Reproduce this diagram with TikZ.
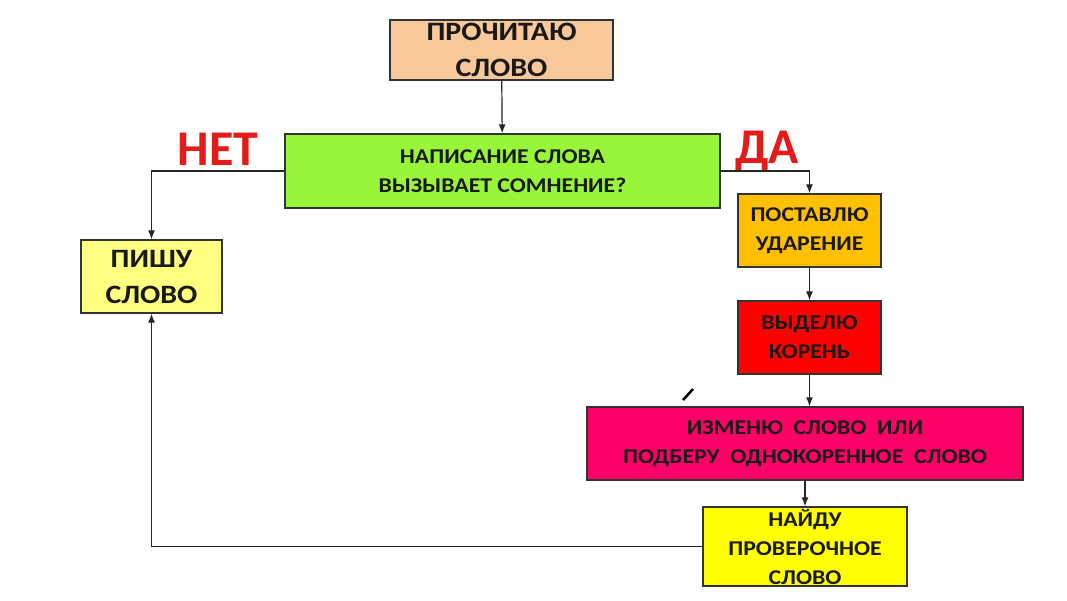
\documentclass[tikz,border=0pt]{standalone}
\usepackage{fontspec}
\setsansfont{Carlito}
\newfontfamily\boxfont{Carlito}[FakeStretch=1.13]
\usetikzlibrary{arrows.meta}
\definecolor{readpeach}{HTML}{F9C89A}
\definecolor{doubtgreen}{HTML}{99F53A}
\definecolor{writeyellow}{HTML}{FFFF80}
\definecolor{stressorange}{HTML}{FFC000}
\definecolor{rootred}{HTML}{FF0000}
\definecolor{changepink}{HTML}{FF0066}
\definecolor{checkyellow}{HTML}{FFFF00}
\definecolor{answerred}{HTML}{E31B1B}

\begin{document}
\begin{tikzpicture}[x = 1pt, y = -1pt, font=\sffamily\bfseries, >={Latex[length=9pt, width=7pt]}]
	\tikzstyle{boxStyle}=[shape = rectangle, draw = black!80, line width = 1.3pt, inner sep = 0pt, align = center, text = black!90]
	\tikzstyle{bigText}=[font = \boxfont\bfseries\fontsize{26.5}{36}\selectfont]
	\tikzstyle{smallText}=[font = \boxfont\bfseries\fontsize{21}{29}\selectfont]
	\tikzstyle{answerStyle}=[text = answerred, inner sep = 0pt, font = \sffamily\bfseries\fontsize{50}{50}\selectfont]
	\tikzstyle{EdgeStyle}=[->, line width = 1.2pt, draw = black!85]
	\useasboundingbox (0,0) rectangle (1067,600);
	\node[boxStyle, bigText, fill = readpeach, minimum width = 223pt, minimum height = 60pt] (read) at (501.5, 50) {ПРОЧИТАЮ\\СЛОВО};
	\node[boxStyle, smallText, fill = doubtgreen, minimum width = 435pt, minimum height = 74pt] (doubt) at (502.5, 171) {НАПИСАНИЕ СЛОВА\\ВЫЗЫВАЕТ СОМНЕНИЕ?};
	\node[boxStyle, bigText, fill = writeyellow, minimum width = 141pt, minimum height = 73pt] (write) at (151.5, 276.5) {ПИШУ\\СЛОВО};
	\node[boxStyle, smallText, fill = stressorange, minimum width = 143pt, minimum height = 73pt] (stress) at (809.5, 230.5) {ПОСТАВЛЮ\\УДАРЕНИЕ};
	\node[boxStyle, smallText, fill = rootred, minimum width = 143pt, minimum height = 73pt] (root) at (809.5, 337.5) {ВЫДЕЛЮ\\КОРЕНЬ};
	\node[boxStyle, smallText, fill = changepink, minimum width = 436pt, minimum height = 73pt] (change) at (805, 443.5) {ИЗМЕНЮ\ \ СЛОВО\ \ ИЛИ\\ПОДБЕРУ\ \ ОДНОКОРЕННОЕ\ \ СЛОВО};
	\node[boxStyle, smallText, fill = checkyellow, minimum width = 204pt, minimum height = 79pt] (check) at (805, 546.5) {НАЙДУ\\ПРОВЕРОЧНОЕ\\СЛОВО};
	\node[answerStyle] (no) at (218, 149) {НЕТ};
	\node[answerStyle] (yes) at (767, 151) {ДА};
	\coordinate (tickA) at (683, 400);
	\coordinate (tickB) at (693, 389);

	\draw[EdgeStyle] (read) -- (doubt);
	\draw[EdgeStyle] (doubt.west) -| (write.north);
	\draw[EdgeStyle] (doubt.east) -| (stress.north);
	\draw[EdgeStyle] (stress) -- (root);
	\draw[EdgeStyle] (root.south) -- (root.south |- change.north);
	\draw[EdgeStyle] (change) -- (check);
	\draw[EdgeStyle] (check.west) -| (write.south);
	\draw[line width = 2.5pt] (tickA) -- (tickB);
\end{tikzpicture}
\end{document}
